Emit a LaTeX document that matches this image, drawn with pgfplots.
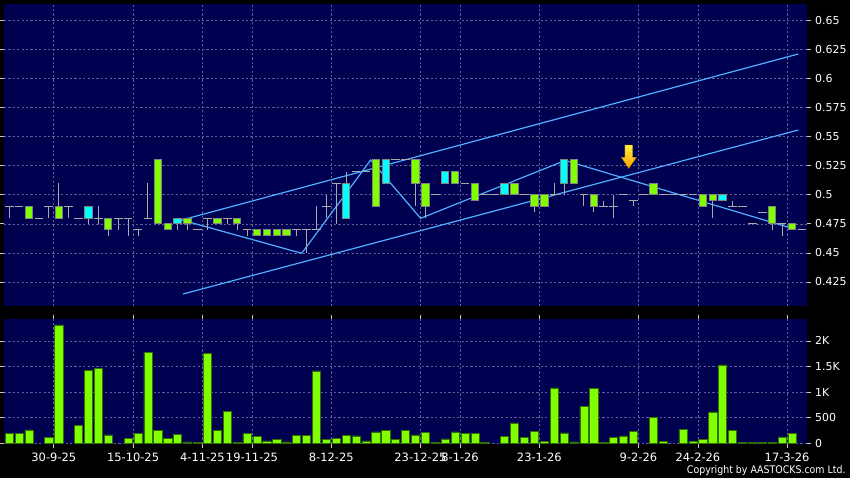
\documentclass[border=0pt]{standalone}
\usepackage{pgfplots}
\pgfplotsset{compat=1.18}
\usepackage{pgfplotstable}
\usepackage{fontspec}
\setmainfont{DejaVu Sans}
\definecolor{bgnavy}{RGB}{0,0,80}
\definecolor{gridcol}{RGB}{95,95,150}
\definecolor{lineblue}{RGB}{80,175,255}
\definecolor{wickgray}{RGB}{170,170,170}
\definecolor{boxborder}{RGB}{130,130,130}
\definecolor{cgreen}{RGB}{127,255,0}
\definecolor{ccyan}{RGB}{0,255,255}
\definecolor{volborder}{RGB}{50,110,0}
\definecolor{tickgray}{RGB}{200,200,200}

% candle wicks: index, low, high
\pgfplotstableread{
i l h
0 0.48 0.49
2 0.48 0.49
4 0.48 0.49
5 0.48 0.51
6 0.48 0.49
8 0.475 0.49
9 0.475 0.49
10 0.465 0.48
11 0.47 0.48
12 0.465 0.48
13 0.465 0.47
14 0.48 0.51
15 0.475 0.53
16 0.47 0.475
17 0.47 0.48
18 0.47 0.48
20 0.47 0.48
21 0.475 0.48
22 0.475 0.48
23 0.47 0.48
24 0.465 0.47
25 0.465 0.47
26 0.465 0.47
27 0.465 0.47
28 0.465 0.47
29 0.465 0.47
30 0.45 0.47
31 0.47 0.49
32 0.48 0.50
33 0.475 0.51
34 0.48 0.52
37 0.49 0.53
38 0.51 0.53
41 0.49 0.53
42 0.48 0.51
44 0.51 0.52
45 0.51 0.52
47 0.495 0.51
50 0.50 0.51
51 0.50 0.51
53 0.485 0.50
54 0.49 0.50
55 0.50 0.51
56 0.50 0.53
57 0.51 0.53
58 0.49 0.50
59 0.485 0.50
60 0.49 0.495
61 0.48 0.50
63 0.49 0.495
65 0.50 0.51
70 0.49 0.50
71 0.48 0.50
72 0.495 0.50
73 0.49 0.495
77 0.47 0.49
78 0.465 0.475
79 0.47 0.475
}\wicks

% falling candles (green bodies): index, body low, body high
\pgfplotstableread{
i bl bh
2 0.48 0.49
5 0.48 0.49
10 0.47 0.48
15 0.475 0.53
16 0.47 0.475
18 0.475 0.48
21 0.475 0.48
23 0.475 0.48
25 0.465 0.47
26 0.465 0.47
27 0.465 0.47
28 0.465 0.47
37 0.49 0.53
41 0.51 0.53
42 0.49 0.51
45 0.51 0.52
47 0.495 0.51
51 0.50 0.51
53 0.49 0.50
54 0.49 0.50
57 0.51 0.53
59 0.49 0.50
65 0.50 0.51
70 0.49 0.50
71 0.495 0.50
77 0.475 0.49
79 0.47 0.475
}\greenbox

% rising candles (cyan bodies)
\pgfplotstableread{
i bl bh
8 0.48 0.49
17 0.475 0.48
34 0.48 0.51
38 0.51 0.53
44 0.51 0.52
50 0.50 0.51
56 0.51 0.53
72 0.495 0.50
}\cyanbox

% open = close candles
\pgfplotstableread{
i v
0 0.49
1 0.49
3 0.48
4 0.49
6 0.49
7 0.48
9 0.48
11 0.48
12 0.48
13 0.47
14 0.48
19 0.47
20 0.48
22 0.48
24 0.47
29 0.47
30 0.47
31 0.47
32 0.49
33 0.51
35 0.52
36 0.52
39 0.53
40 0.53
43 0.50
46 0.51
48 0.50
49 0.50
52 0.50
55 0.50
58 0.50
60 0.49
61 0.49
62 0.50
63 0.495
64 0.50
66 0.50
67 0.50
68 0.50
69 0.50
73 0.49
74 0.49
75 0.475
76 0.485
78 0.475
80 0.47
}\dojis

% volume
\pgfplotstableread{
i v
0 195
1 189
2 260
4 117
5 2311
7 352
8 1426
9 1458
10 163
12 98
13 195
14 1771
15 247
16 91
17 176
18 26
19 20
20 1758
21 247
22 618
23 20
24 195
25 137
26 46
27 78
28 26
29 156
30 156
31 1413
32 78
33 91
34 150
35 143
36 46
37 221
38 254
39 78
40 254
41 163
42 215
43 20
44 85
45 221
46 195
47 195
48 20
50 130
51 397
52 117
53 228
54 39
55 1081
56 202
57 26
58 716
59 1068
60 20
61 117
62 143
63 228
65 508
66 33
68 273
69 39
70 78
71 612
72 1530
73 254
74 13
75 13
76 13
77 13
78 124
79 195
}\volumes

\newcommand{\lblfont}{\fontsize{11}{13}\selectfont}
\pgfplotsset{
  candlebar/.style 2 args={draw=none, mark=none, forget plot,
    error bars/.cd, y dir=both, y explicit, error mark=none,
    error bar style={draw=#1, line width=#2}},
}

\begin{document}
\begin{tikzpicture}
\fill[black] (0,0) rectangle (850bp,478bp);

% ---------------- price panel ----------------
\begin{axis}[
  at={(4bp,172bp)}, anchor=south west,
  scale only axis, width=803bp, height=302bp,
  xmin=-0.525, xmax=80.51, ymin=0.40434, ymax=0.6642,
  axis background/.style={fill=bgnavy},
  axis line style={draw=none},
  xtick={4.5,12.5,19.5,24.5,32.5,41.5,45.5,53.5,63.5,69.5,78.5},
  xticklabels={},
  xtick style={draw=none},
  ytick={0.425,0.45,0.475,0.5,0.525,0.55,0.575,0.6,0.625,0.65},
  yticklabels={0.425,0.45,0.475,0.5,0.525,0.55,0.575,0.6,0.625,0.65},
  yticklabel pos=right,
  tick align=outside, major tick length=4bp,
  ytick style={draw=tickgray, line width=0.8bp},
  yticklabel style={anchor=west, inner sep=0pt, text=white, font=\lblfont, xshift=4bp},
  /pgf/number format/assume math mode=true,
  grid=major,
  grid style={draw=gridcol, dash pattern=on 2.2bp off 2.2bp, line width=0.7bp},
]
% channel lines
\addplot[lineblue, line width=1.2bp] coordinates {(17.41,0.47834) (79.63,0.62118)};
\addplot[lineblue, line width=1.2bp] coordinates {(17.54,0.41467) (79.63,0.55578)};
% zigzag
\addplot[lineblue, line width=1.2bp] coordinates {(17.41,0.47834) (29.52,0.44969) (36.48,0.52997) (41.52,0.47980) (56.1,0.52954) (79.39,0.47017)};
% wicks
\addplot[candlebar={wickgray}{1bp}]
  table[x=i, y expr={(\thisrow{l}+\thisrow{h})/2}, y error expr={(\thisrow{h}-\thisrow{l})/2}] {\wicks};
% open=close ticks
\addplot[draw=none, mark=none, forget plot, error bars/.cd, x dir=both, x fixed=0.44, error mark=none,
  error bar style={draw=wickgray, line width=1bp}]
  table[x=i, y=v] {\dojis};
% body borders
\addplot[candlebar={boxborder}{8.4bp}]
  table[x=i, y expr={(\thisrow{bl}+\thisrow{bh})/2}, y error expr={(\thisrow{bh}-\thisrow{bl})/2+0.00045}] {\greenbox};
\addplot[candlebar={boxborder}{8.4bp}]
  table[x=i, y expr={(\thisrow{bl}+\thisrow{bh})/2}, y error expr={(\thisrow{bh}-\thisrow{bl})/2+0.00045}] {\cyanbox};
% bodies
\addplot[candlebar={cgreen}{6.4bp}]
  table[x=i, y expr={(\thisrow{bl}+\thisrow{bh})/2}, y error expr={(\thisrow{bh}-\thisrow{bl})/2-0.00045}] {\greenbox};
\addplot[candlebar={ccyan}{6.4bp}]
  table[x=i, y expr={(\thisrow{bl}+\thisrow{bh})/2}, y error expr={(\thisrow{bh}-\thisrow{bl})/2-0.00045}] {\cyanbox};
% arrow marker
\path[top color={rgb,255:red,255;green,240;blue,60}, bottom color={rgb,255:red,255;green,160;blue,0}, draw={rgb,255:red,200;green,130;blue,0}, line width=0.4bp]
  (axis cs:62.14,0.54287) -- (axis cs:62.90,0.54287) -- (axis cs:62.90,0.5323)
  -- (axis cs:63.30,0.5323) -- (axis cs:62.52,0.52283) -- (axis cs:61.78,0.5323)
  -- (axis cs:62.14,0.5323) -- cycle;
\end{axis}

% ---------------- volume panel ----------------
\begin{axis}[
  at={(4bp,34bp)}, anchor=south west,
  scale only axis, width=803bp, height=125bp,
  xmin=-0.525, xmax=80.51, ymin=-13.7, ymax=2428,
  axis background/.style={fill=bgnavy},
  axis line style={draw=none},
  xtick={4.5,12.5,19.5,24.5,32.5,41.5,45.5,53.5,63.5,69.5,78.5},
  xticklabels={30-9-25,15-10-25,4-11-25,19-11-25,8-12-25,23-12-25,8-1-26,23-1-26,9-2-26,24-2-26,17-3-26},
  ytick={0,500,1000,1500,2000},
  yticklabels={0,500,1K,1.5K,2K},
  yticklabel pos=right,
  tick align=outside, major tick length=4bp,
  tick style={draw=tickgray, line width=0.8bp},
  yticklabel style={anchor=west, inner sep=0pt, text=white, font=\lblfont, xshift=4bp},
  xticklabel style={anchor=north, inner sep=0pt, text=white, font=\fontsize{11.5}{13}\selectfont, yshift=-5bp},
  /pgf/number format/assume math mode=true,
  grid=major,
  grid style={draw=gridcol, dash pattern=on 2.2bp off 2.2bp, line width=0.7bp},
]
\addplot[ybar, bar width=8.2bp, fill=cgreen, draw=volborder, line width=0.6bp] table[x=i, y=v] {\volumes};
\end{axis}

\node[anchor=base east, inner sep=0pt, text=white, font=\fontsize{10.5}{12}\selectfont] at (845.7bp,4.5bp) {\scalebox{0.9}[1]{Copyright by AASTOCKS.com Ltd.}};

\pgfresetboundingbox
\path (0,0) rectangle (850bp,478bp);
\end{tikzpicture}
\end{document}
